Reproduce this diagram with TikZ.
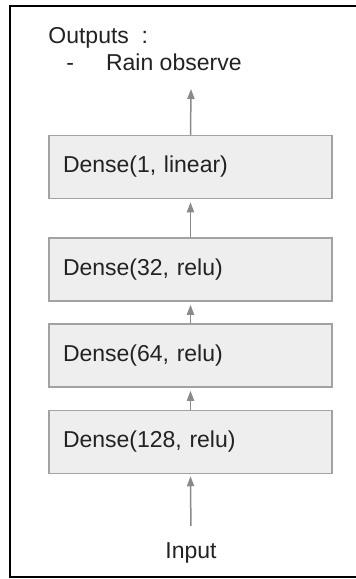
\documentclass[tikz,border=0pt]{standalone}
\usepackage{fontspec}
\setmainfont{Liberation Sans}
\usepackage{xcolor}
\usepackage{tikz}
\usetikzlibrary{arrows.meta}

\definecolor{layerfill}{HTML}{EEEEEE}
\definecolor{layerline}{HTML}{A2A2A2}
\definecolor{flowgray}{HTML}{8A8A8A}
\definecolor{inkgray}{HTML}{222222}

\tikzset{
  layer/.style={draw=layerline, fill=layerfill, line width=0.75pt,
    text width=127.5pt, inner xsep=7pt, inner ysep=0pt, align=left,
    minimum height=31.5pt, text=inkgray, font=\fontsize{11.5}{13}\selectfont},
  label/.style={inner sep=0pt, text=inkgray, font=\fontsize{11.5}{13}\selectfont},
  flow/.style={draw=flowgray, line width=0.75pt,
    -{Triangle[width=3.6pt,length=5pt]}},
}

\begin{document}
\begin{tikzpicture}[x=0.5pt,y=-0.5pt]
        \useasboundingbox (0,0) rectangle (356,579);
        \draw[line width=0.8pt] (10,6) rectangle (362,577);
        % outputs
        \node[label,anchor=base west] (outtitle) at (48,43) {Outputs\ \ :};
        \node[label,anchor=base west] (outitem) at (66,70) {-\hspace{16pt}Rain observe};
        \coordinate (outtip) at (191,89);
        % layers
        \node[layer] (dense1) at (190.5,167) {Dense(1, linear)};
        \node[layer] (dense32) at (190.5,269.5) {Dense(32, relu)};
        \node[layer] (dense64) at (190.5,355.5) {Dense(64, relu)};
        \node[layer] (dense128) at (190.5,442) {Dense(128, relu)};
        % input
        \node[label,anchor=base] (input) at (191,558) {Input};
        % arrows
        \draw[flow,shorten <=8pt,shorten >=1pt] (input.north) -- (dense128.south);
        \draw[flow,shorten >=1.5pt] (dense128.north) -- (dense64.south);
        \draw[flow,shorten >=1.5pt] (dense64.north) -- (dense32.south);
        \draw[flow,shorten >=1.5pt] (dense32.north) -- (dense1.south);
        \draw[flow] (dense1.north) -- (outtip);
\end{tikzpicture}
\end{document}
